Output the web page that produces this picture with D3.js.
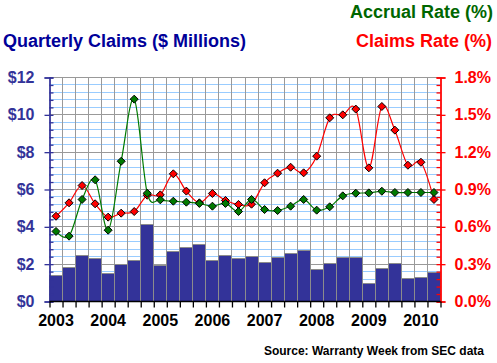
<!DOCTYPE html>
<html>
<head>
<meta charset="utf-8">
<script src="https://cdn.jsdelivr.net/npm/d3@7"></script>
<style>
  body { margin: 0; background: #fff; }
  svg text { font-family: Arial, "Liberation Sans", sans-serif; font-weight: bold; }
</style>
</head>
<body>
<svg id="chart" width="497" height="363"></svg>
<script>
// quarters 2003 Q1 .. 2010 Q2
var quarters = ["2003Q1","2003Q2","2003Q3","2003Q4","2004Q1","2004Q2","2004Q3","2004Q4",
                "2005Q1","2005Q2","2005Q3","2005Q4","2006Q1","2006Q2","2006Q3","2006Q4",
                "2007Q1","2007Q2","2007Q3","2007Q4","2008Q1","2008Q2","2008Q3","2008Q4",
                "2009Q1","2009Q2","2009Q3","2009Q4","2010Q1","2010Q2"];
var years = ["2003","2004","2005","2006","2007","2008","2009","2010"];

// $ millions
var claimsPaid = [1.38, 1.80, 2.45, 2.29, 1.50, 1.96, 2.18, 4.11, 1.91, 2.66,
                  2.87, 3.05, 2.18, 2.46, 2.30, 2.39, 2.09, 2.34, 2.57, 2.73,
                  1.70, 2.03, 2.34, 2.34, 0.95, 1.75, 2.03, 1.21, 1.27, 1.55];
// percent
var claimsRate = [0.685, 0.793, 0.932, 0.785, 0.678, 0.710, 0.723, 0.854, 0.857, 1.026,
                  0.887, 0.793, 0.868, 0.812, 0.780, 0.782, 0.954, 1.031, 1.079, 1.034,
                  1.168, 1.476, 1.500, 1.546, 1.074, 1.567, 1.377, 1.095, 1.119, 0.820];
var accrualRate = [0.563, 0.525, 0.820, 0.978, 0.573, 1.127, 1.626, 0.870, 0.817, 0.806,
                   0.798, 0.788, 0.766, 0.788, 0.723, 0.820, 0.739, 0.731, 0.766, 0.820,
                   0.734, 0.761, 0.849, 0.870, 0.873, 0.886, 0.876, 0.876, 0.876, 0.876];

var leftTicks = [0, 2, 4, 6, 8, 10, 12];
var rightTicks = [0, 0.3, 0.6, 0.9, 1.2, 1.5, 1.8];

var plotLeft = 49.5, plotRight = 440.5, plotTop = 77.5, plotBottom = 301.5;
var svg = d3.select("#chart");

var x = d3.scaleBand().domain(quarters).range([plotLeft, plotRight]).padding(0);
var xEdge = d3.scaleLinear().domain([0, quarters.length]).range([plotLeft, plotRight]);
var y = d3.scaleLinear().domain([0, 12]).range([plotBottom, plotTop]);
var y2 = d3.scaleLinear().domain([0, 1.8]).range([plotBottom, plotTop]);

var minorVals = d3.range(0, 12.001, 0.4);
var minor2 = d3.range(0, 1.8001, 0.06);

function crisp(v) { return Math.round(v - 0.5) + 0.5; }

// grid
var grid = svg.append("g");
grid.selectAll(".hminor").data(minorVals).enter().append("line")
    .attr("x1", plotLeft).attr("x2", plotRight)
    .attr("y1", function(d){ return crisp(y(d)); })
    .attr("y2", function(d){ return crisp(y(d)); })
    .attr("stroke", "#99ccff").attr("stroke-width", 1);
grid.selectAll(".hmajor").data(leftTicks).enter().append("line")
    .attr("x1", plotLeft).attr("x2", plotRight)
    .attr("y1", function(d){ return crisp(y(d)); })
    .attr("y2", function(d){ return crisp(y(d)); })
    .attr("stroke", "#999999").attr("stroke-width", 1);
grid.selectAll(".v").data(d3.range(1, quarters.length)).enter().append("line")
    .attr("x1", function(d){ return crisp(xEdge(d)); })
    .attr("x2", function(d){ return crisp(xEdge(d)); })
    .attr("y1", plotTop).attr("y2", plotBottom)
    .attr("stroke", "#999999").attr("stroke-width", 1);

// bars
svg.append("g").selectAll("rect").data(claimsPaid).enter().append("rect")
    .attr("x", function(d, i){ return crisp(x(quarters[i])); })
    .attr("width", function(d, i){ return crisp(x(quarters[i]) + x.bandwidth()) - crisp(x(quarters[i])); })
    .attr("y", function(d){ return crisp(y(d)); })
    .attr("height", function(d){ return plotBottom - crisp(y(d)); })
    .attr("fill", "#333399")
    .attr("stroke", "#8c8c8c").attr("stroke-width", 1);

// lines
var cx = function(d, i){ return x(quarters[i]) + x.bandwidth() / 2; };
var line = d3.line().x(cx).y(function(d){ return y2(d); }).curve(d3.curveCatmullRom.alpha(0));

function series(data, color) {
    var g = svg.append("g");
    g.append("path").datum(data)
        .attr("d", line)
        .attr("fill", "none")
        .attr("stroke", color)
        .attr("stroke-width", 1.2);
    g.selectAll("path.pt").data(data).enter().append("path")
        .attr("class", "pt")
        .attr("d", "M0,-4L4,0L0,4L-4,0Z")
        .attr("transform", function(d, i){ return "translate(" + cx(d, i) + "," + y2(d) + ")"; })
        .attr("fill", color)
        .attr("stroke", "#000").attr("stroke-width", 1);
}
series(claimsRate, "#ff0000");
series(accrualRate, "#007a00");

function styleAxis(g, color) {
    g.selectAll("line, path").attr("stroke", color).attr("stroke-width", 1.3);
    g.selectAll("text").attr("fill", color).attr("font-size", 16)
        .attr("font-family", "Arial, 'Liberation Sans', sans-serif").attr("font-weight", "bold");
}

// left axis: minor ticks inside, major ticks + labels outside
var laMinor = svg.append("g").attr("transform", "translate(" + plotLeft + ",0)")
    .call(d3.axisRight(y).tickValues(minorVals).tickSize(4).tickFormat(""));
styleAxis(laMinor, "#333399");
var la = svg.append("g").attr("transform", "translate(" + plotLeft + ",0)")
    .call(d3.axisLeft(y).tickValues(leftTicks).tickSize(5).tickPadding(10)
        .tickFormat(function(d){ return "$" + d; }));
styleAxis(la, "#333399");

// right axis
var raMinor = svg.append("g").attr("transform", "translate(" + plotRight + ",0)")
    .call(d3.axisLeft(y2).tickValues(minor2).tickSize(4).tickFormat(""));
styleAxis(raMinor, "#ff0000");
var ra = svg.append("g").attr("transform", "translate(" + plotRight + ",0)")
    .call(d3.axisRight(y2).tickValues(rightTicks).tickSize(5).tickPadding(9)
        .tickFormat(function(d){ return d.toFixed(1) + "%"; }));
styleAxis(ra, "#ff0000");

// bottom axis
var ba = svg.append("g").attr("transform", "translate(0," + plotBottom + ")")
    .call(d3.axisBottom(xEdge).tickValues(d3.range(0, quarters.length + 1)).tickSize(6).tickFormat(""));
styleAxis(ba, "#000");
ba.select(".domain").attr("d", "M" + plotLeft + ",0H" + plotRight);

svg.append("g").selectAll("text").data(years).enter().append("text")
    .attr("x", function(d){ return x(d + "Q1") + x.bandwidth() / 2; })
    .attr("y", 326)
    .attr("text-anchor", "middle")
    .attr("font-size", 16)
    .attr("fill", "#000")
    .text(function(d){ return d; });

// titles
svg.append("text").attr("x", 3).attr("y", 47).attr("font-size", 18)
    .attr("fill", "#000099").text("Quarterly Claims ($ Millions)");
svg.append("text").attr("x", 493).attr("y", 18).attr("font-size", 18)
    .attr("text-anchor", "end").attr("fill", "#006600").text("Accrual Rate (%)");
svg.append("text").attr("x", 492).attr("y", 47).attr("font-size", 18)
    .attr("text-anchor", "end").attr("fill", "#ff0000").text("Claims Rate (%)");
svg.append("text").attr("x", 484).attr("y", 355).attr("font-size", 12)
    .attr("text-anchor", "end").attr("fill", "#000").text("Source: Warranty Week from SEC data");
</script>
</body>
</html>
